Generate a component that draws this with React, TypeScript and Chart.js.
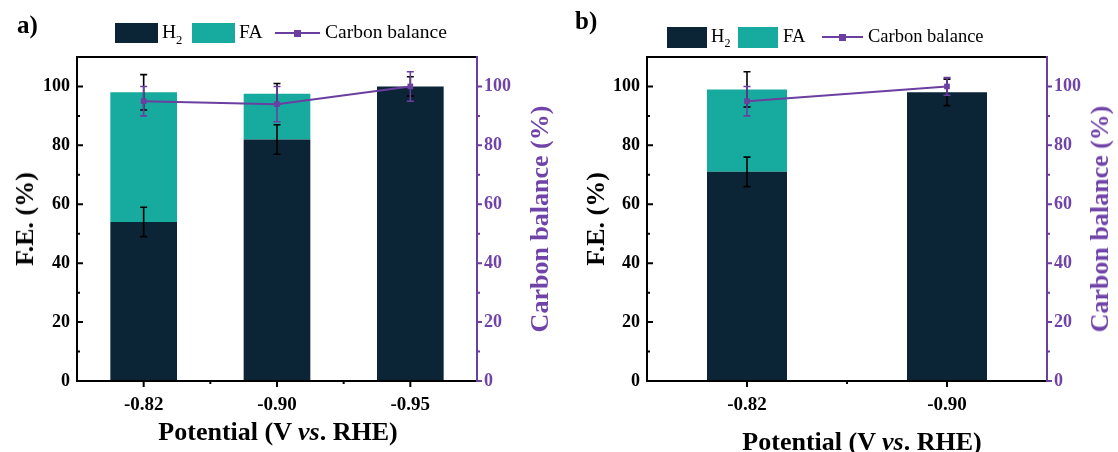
import React, { useEffect, useRef } from 'react';
import { Chart, registerables } from 'chart.js';
Chart.register(...registerables);

// ---------- data ----------
const categoriesA = ['-0.82', '-0.90', '-0.95'];
const h2A = [54, 82, 100];
const faA = [44, 15.5, 0];
const h2ErrA = [5, 5, 3.3];
const totalErrA = [6, 3.5, 0];
const carbonA = [95, 94, 100];
const carbonErrA = [5, 6, 5];

const categoriesB = ['-0.82', '-0.90'];
const h2B = [71, 98];
const faB = [28, 0];
const h2ErrB = [5, 4.5];
const totalErrB = [6, 0];
const carbonB = [95, 100];
const carbonErrB = [5, 3];

const yTicks = [0, 20, 40, 60, 80, 100];
const yMinorTicks = [10, 30, 50, 70, 90];
const Y_MIN = 0;
const Y_MAX = 110;

// ---------- styles ----------
const DARK = '#0c2536';
const TEAL = '#17aa9e';
const PURPLE = '#6b3fa0';
const PURPLE_TEXT = '#7043a8';
const SERIF = '"Liberation Serif", "Times New Roman", serif';

type PanelCfg = {
  categories: string[];
  h2: number[];
  fa: number[];
  h2Err: number[];
  totalErr: number[];
  carbon: number[];
  carbonErr: number[];
  barPct: number;
  leftW: number;
  rightW: number;
};

function makeChart(canvas: HTMLCanvasElement, p: PanelCfg) {
  const errPlugin = {
    id: 'errbars',
    beforeDatasetDraw(chart: any, args: any) {
      if (args.index !== 0) return;
      const ctx = chart.ctx;
      const x = chart.scales.x;
      const y = chart.scales.y;
      const y1 = chart.scales.y1;
      const cap = 3.5;
      const drawErr = (cx: number, top: number, bot: number, color: string) => {
        ctx.save();
        ctx.strokeStyle = color;
        ctx.lineWidth = 1.6;
        ctx.beginPath();
        ctx.moveTo(cx, top);
        ctx.lineTo(cx, bot);
        ctx.moveTo(cx - cap, top);
        ctx.lineTo(cx + cap, top);
        ctx.moveTo(cx - cap, bot);
        ctx.lineTo(cx + cap, bot);
        ctx.stroke();
        ctx.restore();
      };
      p.categories.forEach((_, i) => {
        const cx = x.getPixelForValue(i);
        const h = p.h2[i];
        drawErr(cx, y.getPixelForValue(h + p.h2Err[i]), y.getPixelForValue(h - p.h2Err[i]), '#000');
        if (p.fa[i] > 0) {
          const t = h + p.fa[i];
          drawErr(cx, y.getPixelForValue(t + p.totalErr[i]), y.getPixelForValue(t - p.totalErr[i]), '#000');
        }
      });
      p.categories.forEach((_, i) => {
        const cx = x.getPixelForValue(i);
        const c = p.carbon[i];
        drawErr(cx, y1.getPixelForValue(c + p.carbonErr[i]), y1.getPixelForValue(c - p.carbonErr[i]), PURPLE);
      });
    },
  };

  const framePlugin = {
    id: 'frame',
    afterDraw(chart: any) {
      const ctx = chart.ctx;
      const { left, right, top, bottom } = chart.chartArea;
      const y = chart.scales.y;
      const y1 = chart.scales.y1;
      const x = chart.scales.x;
      ctx.save();
      ctx.lineWidth = 2;
      ctx.lineCap = 'square';
      ctx.strokeStyle = '#000';
      ctx.beginPath();
      ctx.moveTo(left, top);
      ctx.lineTo(left, bottom);
      ctx.moveTo(left, top);
      ctx.lineTo(right, top);
      ctx.moveTo(left, bottom);
      ctx.lineTo(right, bottom);
      ctx.stroke();
      ctx.lineCap = 'butt';
      ctx.beginPath();
      yTicks.forEach((v) => {
        const py = y.getPixelForValue(v);
        ctx.moveTo(left, py);
        ctx.lineTo(left + 6, py);
      });
      yMinorTicks.forEach((v) => {
        const py = y.getPixelForValue(v);
        ctx.moveTo(left, py);
        ctx.lineTo(left + 3, py);
      });
      p.categories.forEach((_, i) => {
        const px = x.getPixelForValue(i);
        ctx.moveTo(px, bottom);
        ctx.lineTo(px, bottom + 6);
      });
      for (let i = 0; i < p.categories.length - 1; i++) {
        const px = (x.getPixelForValue(i) + x.getPixelForValue(i + 1)) / 2;
        ctx.moveTo(px, bottom);
        ctx.lineTo(px, bottom + 3);
      }
      ctx.stroke();
      ctx.strokeStyle = PURPLE;
      ctx.lineCap = 'square';
      ctx.beginPath();
      ctx.moveTo(right, top);
      ctx.lineTo(right, bottom);
      ctx.stroke();
      ctx.lineCap = 'butt';
      ctx.beginPath();
      yTicks.forEach((v) => {
        const py = y1.getPixelForValue(v);
        ctx.moveTo(right, py);
        ctx.lineTo(right + 5, py);
      });
      yMinorTicks.forEach((v) => {
        const py = y1.getPixelForValue(v);
        ctx.moveTo(right, py);
        ctx.lineTo(right + 3, py);
      });
      ctx.stroke();
      ctx.restore();
    },
  };

  const setTicks = (scale: any) => {
    scale.ticks = yTicks.map((v) => ({ value: v }));
  };

  return new Chart(canvas, {
    type: 'bar',
    data: {
      labels: p.categories,
      datasets: [
        {
          type: 'line',
          label: 'Carbon balance',
          data: p.carbon,
          yAxisID: 'y1',
          borderColor: PURPLE,
          backgroundColor: PURPLE,
          borderWidth: 2,
          pointStyle: 'rect',
          pointRadius: 4,
          pointBorderWidth: 0,
          order: 0,
        } as any,
        {
          type: 'bar',
          label: 'H2',
          data: p.h2,
          backgroundColor: DARK,
          yAxisID: 'y',
          stack: 's',
          barPercentage: p.barPct,
          categoryPercentage: 1,
          order: 1,
        },
        {
          type: 'bar',
          label: 'FA',
          data: p.fa,
          backgroundColor: TEAL,
          yAxisID: 'y',
          stack: 's',
          barPercentage: p.barPct,
          categoryPercentage: 1,
          order: 1,
        },
      ],
    },
    options: {
      animation: false,
      responsive: false,
      devicePixelRatio: 1,
      layout: { padding: { top: 57, left: 0, right: 0, bottom: 0 } },
      plugins: { legend: { display: false }, tooltip: { enabled: false } },
      scales: {
        x: {
          type: 'category',
          stacked: true,
          grid: { display: false, drawTicks: false },
          border: { display: false },
          ticks: { color: '#000', font: { family: SERIF, size: 19, weight: 'bold' }, padding: 13 },
          afterFit: (s: any) => {
            s.height = 71;
          },
        },
        y: {
          type: 'linear',
          position: 'left',
          stacked: true,
          min: Y_MIN,
          max: Y_MAX,
          grid: { display: false, drawTicks: false },
          border: { display: false },
          afterBuildTicks: setTicks,
          ticks: { color: '#000', font: { family: SERIF, size: 18, weight: 'bold' }, padding: 7 },
          afterFit: (s: any) => {
            s.width = p.leftW;
          },
        },
        y1: {
          type: 'linear',
          position: 'right',
          stacked: false,
          min: Y_MIN,
          max: Y_MAX,
          grid: { display: false, drawTicks: false },
          border: { display: false },
          afterBuildTicks: setTicks,
          ticks: { color: PURPLE_TEXT, font: { family: SERIF, size: 18, weight: 'bold' }, padding: 7 },
          afterFit: (s: any) => {
            s.width = p.rightW;
          },
        },
      },
    },
    plugins: [errPlugin, framePlugin],
  } as any);
}

function Panel({ cfg, left }: { cfg: PanelCfg; left: number }) {
  const ref = useRef<HTMLCanvasElement>(null);
  useEffect(() => {
    if (!ref.current) return;
    const ch = makeChart(ref.current, cfg);
    return () => ch.destroy();
  }, []);
  return (
    <canvas
      ref={ref}
      width={559}
      height={452}
      style={{ position: 'absolute', left, top: 0, width: 559, height: 452, display: 'block' }}
    />
  );
}

const abs = (l: number, t: number, extra: any = {}) => ({ position: 'absolute' as const, left: l, top: t, ...extra });

function Legend({ x0, yc, boxW, boxH, offs, fs }: { x0: number; yc: number; boxW: number; boxH: number; offs: number[]; fs: number }) {
  const [h2T, faB, faT, lS, lE, cbT] = offs;
  const txt = { fontFamily: SERIF, fontSize: fs, color: '#000', lineHeight: '1', whiteSpace: 'nowrap' as const };
  return (
    <>
      <div style={abs(x0, yc - boxH / 2, { width: boxW, height: boxH, background: DARK })} />
      <div style={abs(h2T, yc - fs / 2 - 1, txt)}>
        H<sub style={{ fontSize: fs * 0.65, verticalAlign: 'baseline', position: 'relative', top: fs * 0.3 }}>2</sub>
      </div>
      <div style={abs(faB, yc - boxH / 2, { width: boxW, height: boxH, background: TEAL })} />
      <div style={abs(faT, yc - fs / 2 - 1, txt)}>FA</div>
      <div style={abs(lS, yc - 1, { width: lE - lS, height: 2, background: PURPLE })} />
      <div style={abs((lS + lE) / 2 - 3.5, yc - 3.5, { width: 7, height: 7, background: PURPLE })} />
      <div style={abs(cbT, yc - fs / 2 - 1, txt)}>Carbon balance</div>
    </>
  );
}

function RotText({ cx, cy, color, children }: { cx: number; cy: number; color: string; children: any }) {
  return (
    <div
      style={{
        position: 'absolute',
        left: cx,
        top: cy,
        transform: 'translate(-50%, -50%) rotate(-90deg)',
        fontFamily: SERIF,
        fontWeight: 'bold',
        fontSize: 26,
        color,
        whiteSpace: 'nowrap',
        lineHeight: '1',
      }}
    >
      {children}
    </div>
  );
}

function XTitle({ cx, cy }: { cx: number; cy: number }) {
  return (
    <div
      style={{
        position: 'absolute',
        left: cx,
        top: cy,
        transform: 'translate(-50%, -50%)',
        fontFamily: SERIF,
        fontWeight: 'bold',
        fontSize: 26,
        color: '#000',
        whiteSpace: 'nowrap',
        lineHeight: '1',
      }}
    >
      Potential (V <i>vs</i>. RHE)
    </div>
  );
}

const panelA: PanelCfg = {
  categories: categoriesA,
  h2: h2A,
  fa: faA,
  h2Err: h2ErrA,
  totalErr: totalErrA,
  carbon: carbonA,
  carbonErr: carbonErrA,
  barPct: 0.5,
  leftW: 77,
  rightW: 82,
};

const panelB: PanelCfg = {
  categories: categoriesB,
  h2: h2B,
  fa: faB,
  h2Err: h2ErrB,
  totalErr: totalErrB,
  carbon: carbonB,
  carbonErr: carbonErrB,
  barPct: 0.4,
  leftW: 88,
  rightW: 71,
};

export default function App() {
  return (
    <div style={{ position: 'absolute', left: 0, top: 0, width: 1118, height: 452, background: '#fff', overflow: 'hidden' }}>
      <Panel cfg={panelA} left={0} />
      <Panel cfg={panelB} left={559} />
      <div style={abs(17, 12, { fontFamily: SERIF, fontWeight: 'bold', fontSize: 25, lineHeight: '1' })}>a)</div>
      <div style={abs(575, 8, { fontFamily: SERIF, fontWeight: 'bold', fontSize: 25, lineHeight: '1' })}>b)</div>
      <Legend x0={115} yc={33} boxW={43} boxH={20} offs={[162, 192, 239, 275, 320, 325]} fs={19.5} />
      <Legend x0={667} yc={37} boxW={40} boxH={21} offs={[711, 738, 783, 822, 863, 868]} fs={18.5} />
      <RotText cx={25} cy={219} color="#000">F.E. (%)</RotText>
      <RotText cx={540} cy={219} color={PURPLE_TEXT}>Carbon balance (%)</RotText>
      <RotText cx={596} cy={219} color="#000">F.E. (%)</RotText>
      <RotText cx={1100} cy={219} color={PURPLE_TEXT}>Carbon balance (%)</RotText>
      <XTitle cx={278} cy={432} />
      <XTitle cx={862} cy={442} />
    </div>
  );
}
